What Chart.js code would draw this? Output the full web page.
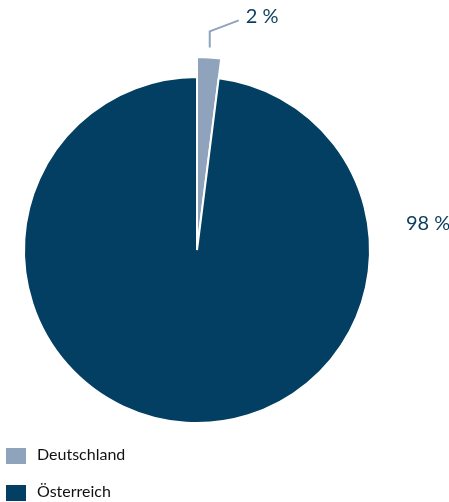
<!DOCTYPE html>
<html>
<head>
<meta charset="utf-8">
<script src="https://cdn.jsdelivr.net/npm/chart.js@4/dist/chart.umd.min.js"></script>
<style>
  html, body { margin: 0; padding: 0; background: #fff; }
  #wrap { position: relative; width: 449px; height: 502px; overflow: hidden; }
  canvas { position: absolute; left: 0; top: 0; }
  .leg { position: absolute; left: 6px; font-family: Lato, sans-serif; font-size: 16px; color: #111; display: flex; align-items: center; }
  .leg span.sw { display: inline-block; width: 20px; height: 16px; margin-right: 11px; }
  .leg span.tx { position: relative; top: -2px; }
</style>
</head>
<body>
<div id="wrap">
  <canvas id="c" width="449" height="502"></canvas>
  <div id="legend"></div>
</div>
<script>
const categories = ["Deutschland", "Österreich"];
const values = [2, 98];
const valueLabels = ["2 %", "98 %"];
const colors = ["#8fa3bd", "#023f62"];

// legend (HTML, built from the arrays)
const legendTops = [446, 483];
const legEl = document.getElementById('legend');
categories.forEach((c, i) => {
  const d = document.createElement('div');
  d.className = 'leg';
  d.style.top = legendTops[i] + 'px';
  d.innerHTML = '<span class="sw" style="background:' + colors[i] + '"></span><span class="tx">' + c + '</span>';
  legEl.appendChild(d);
});

const EXTRA = 20; // small slice drawn with a larger radius

const extendPlugin = {
  id: 'extend',
  beforeDatasetsDraw(chart) {
    const meta = chart.getDatasetMeta(0);
    const base = meta.data[1].outerRadius;
    meta.data[0].outerRadius = base + EXTRA;
  }
};

const labelPlugin = {
  id: 'labels',
  afterDraw(chart) {
    const ctx = chart.ctx;
    const meta = chart.getDatasetMeta(0);
    const small = meta.data[0];
    const big = meta.data[1];
    const cx = small.x, cy = small.y;
    ctx.save();
    const mid = (small.startAngle + small.endAngle) / 2;
    const r0 = small.outerRadius + 10;
    const x0 = cx + Math.cos(mid) * r0;
    const y0 = cy + Math.sin(mid) * r0;
    ctx.strokeStyle = colors[0];
    ctx.lineWidth = 2;
    ctx.beginPath();
    ctx.moveTo(x0, y0);
    ctx.lineTo(x0, y0 - 16);
    ctx.lineTo(x0 + 29, y0 - 27);
    ctx.stroke();
    ctx.fillStyle = '#0b3c5d';
    ctx.font = '20px Lato, sans-serif';
    ctx.textBaseline = 'middle';
    ctx.textAlign = 'left';
    ctx.fillText(valueLabels[0], x0 + 36, y0 - 31);
    ctx.fillText(valueLabels[1], cx + big.outerRadius + 36, cy - 26);
    ctx.restore();
  }
};

new Chart(document.getElementById('c'), {
  type: 'pie',
  data: {
    labels: categories,
    datasets: [{
      data: values,
      backgroundColor: colors,
      borderColor: '#ffffff',
      borderWidth: 2,
      hoverOffset: 0
    }]
  },
  options: {
    responsive: false,
    animation: false,
    layout: { padding: { left: 23, right: 78, top: 76, bottom: 78 } },
    plugins: { legend: { display: false }, tooltip: { enabled: false } }
  },
  plugins: [extendPlugin, labelPlugin]
});
</script>
</body>
</html>
